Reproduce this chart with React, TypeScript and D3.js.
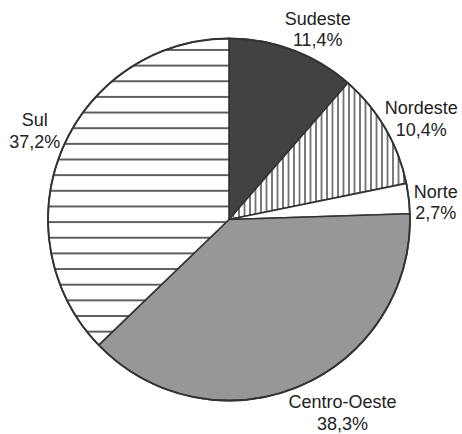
import React from "react";
import * as d3 from "d3";

const regions = ["Sudeste", "Nordeste", "Norte", "Centro-Oeste", "Sul"];
const shares = [11.4, 10.4, 2.7, 38.3, 37.2];
const shareLabels = ["11,4%", "10,4%", "2,7%", "38,3%", "37,2%"];
const fills = ["#424244", "url(#vhatch)", "#ffffff", "#97979a", "url(#hhatch)"];

// label placement: angle (deg, clockwise from top) and radius from center
const labelLayout = [
  { angle: 25.8, radius: 204 },
  { angle: 63.9, radius: 214 },
  { angle: 87.0, radius: 207 },
  { angle: 150.4, radius: 230 },
  { angle: 293.0, radius: 211 },
];

const W = 462;
const H = 434;
const cx = 229;
const cy = 219.5;
const R = 181;

export default function App() {
  const items = regions.map((r, i) => ({ name: r, value: shares[i], label: shareLabels[i], fill: fills[i] }));
  const pie = d3.pie<any>().value((d) => d.value).sort(null);
  const arcs = pie(items);
  const arcGen = d3.arc<any>().innerRadius(0).outerRadius(R);

  return (
    <svg
      width={W}
      height={H}
      style={{ position: "absolute", left: 0, top: 0, background: "#fff" }}
      fontFamily="'Liberation Sans', Arial, sans-serif"
    >
      <defs>
        <pattern id="hhatch" patternUnits="userSpaceOnUse" x={0} y={cy + 2.2} width={20} height={15.65}>
          <rect width={20} height={15.65} fill="#fff" />
          <line x1={0} x2={20} y1={0} y2={0} stroke="#3a3a3a" strokeWidth={1.6} />
          <line x1={0} x2={20} y1={15.65} y2={15.65} stroke="#3a3a3a" strokeWidth={1.6} />
        </pattern>
        <pattern id="vhatch" patternUnits="userSpaceOnUse" x={351} y={0} width={5.5} height={20}>
          <rect width={5.5} height={20} fill="#fff" />
          <line x1={0} x2={0} y1={0} y2={20} stroke="#3a3a3a" strokeWidth={1.3} />
          <line x1={5.5} x2={5.5} y1={0} y2={20} stroke="#3a3a3a" strokeWidth={1.3} />
        </pattern>
      </defs>
      <g transform={`translate(${cx},${cy})`}>
        {arcs.map((a, i) => (
          <path key={i} d={arcGen(a) || ""} fill={a.data.fill} stroke="#333" strokeWidth={1.6} strokeLinejoin="round" />
        ))}
        <circle r={R} fill="none" stroke="#333" strokeWidth={1.8} />
      </g>
      {items.map((d, i) => {
        const l = labelLayout[i];
        const t = (l.angle * Math.PI) / 180;
        const x = cx + l.radius * Math.sin(t);
        const y = cy - l.radius * Math.cos(t);
        return (
          <text key={i} x={x} y={y} textAnchor="middle" fontSize={18} fill="#222">
            <tspan x={x} dy={-11}>{d.name}</tspan>
            <tspan x={x} dy={21.5}>{d.label}</tspan>
          </text>
        );
      })}
    </svg>
  );
}
